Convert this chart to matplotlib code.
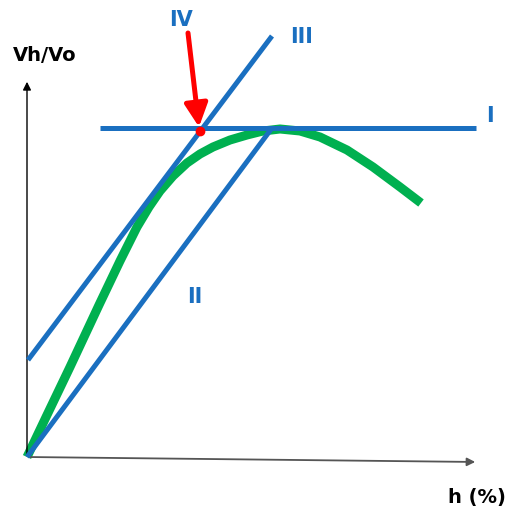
import matplotlib
matplotlib.use('Agg')
import matplotlib.pyplot as plt

# schematic coordinates, origin at the axes corner
curve_x = [0, 20, 43, 72, 93, 110, 122, 133, 146, 160, 173, 186, 203, 220, 236,
           253, 273, 293, 320, 346, 373, 394]
curve_y = [0, 42, 90, 152, 196, 230, 250, 266, 281, 294, 303, 310, 317, 322, 326,
           328, 326, 320, 307, 290, 270, 254]

line_I = ([73, 449], [329, 329])
line_II = ([0, 245], [0, 329])
line_III = ([1, 245], [97, 421])

arrow_start = (161, 424)
arrow_end = (172, 330)
point_IV = (173, 326)

labels = {'IV': (154, 437), 'III': (275, 420), 'I': (463, 341), 'II': (168, 160)}

blue = '#1a6fc0'
green = '#00b050'
red = '#ff0000'

fig = plt.figure(figsize=(5.06, 5.09), dpi=100)
ax = fig.add_axes([0, 0, 1, 1])
ax.set_xlim(-27, 479)
ax.set_ylim(-52, 457)
ax.axis('off')

# axes arrows
ax.annotate('', xy=(0, 378), xytext=(0, 0),
            arrowprops=dict(arrowstyle='-|>', color='black', lw=1, mutation_scale=12))
ax.annotate('', xy=(451, -5), xytext=(0, 0),
            arrowprops=dict(arrowstyle='-|>', color='#555555', lw=1.3, mutation_scale=12))

ax.plot(curve_x, curve_y, color=green, lw=6.5, solid_capstyle='butt', solid_joinstyle='round', zorder=2)
for xs, ys in (line_I, line_II, line_III):
    ax.plot(xs, ys, color=blue, lw=3.6, solid_capstyle='butt', zorder=3)

ax.annotate('', xy=arrow_end, xytext=arrow_start,
            arrowprops=dict(arrowstyle='-|>,head_width=0.5,head_length=1.0', color=red,
                            lw=3.6, mutation_scale=14, shrinkA=0, shrinkB=0), zorder=4)
ax.plot(*point_IV, 'o', color=red, ms=6, zorder=5)

for name, (x, y) in labels.items():
    ax.text(x, y, name, color=blue, fontsize=15, fontweight='bold', ha='center', va='center')

ax.text(18, 402, 'Vh/Vo', fontsize=14, fontweight='bold', ha='center', va='center')
ax.text(450, -40, 'h (%)', fontsize=14, fontweight='bold', ha='center', va='center')

fig.savefig('out.png', dpi=100)
